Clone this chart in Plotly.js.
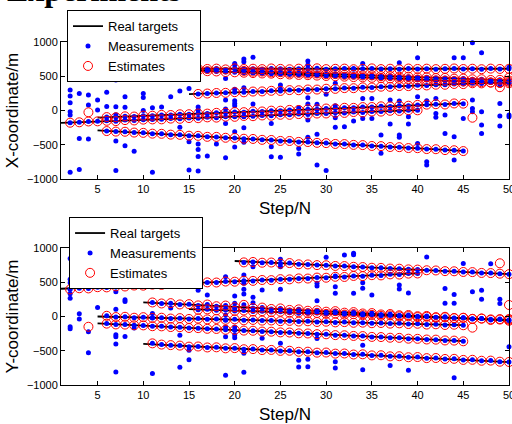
<!DOCTYPE html>
<html><head><meta charset="utf-8">
<script src="https://cdn.plot.ly/plotly-3.0.1.min.js"></script>
<style>html,body{margin:0;padding:0;background:#fff}#chart{width:512px;height:424px}</style>
</head><body><div id="chart"></div>
<script>
// ---------- X-coordinate figure ----------
// real target tracks: birth step, death step, value at birth, value at death (straight tracks)
const xTrackStart = [1, 5, 5, 10, 10, 15, 20];
const xTrackEnd   = [40, 45, 45, 50, 50, 50, 50];
const xTrackFrom  = [-180, -105, -290, 610, 615, 240, 580];
const xTrackTo    = [7, 105, -590, 610, 400, 415, 440];
// estimates for each track, one value per step starting at birth+1
const xEstA = [-178,-172,-160,-158,-150,-155,-140,-145,-133,-130,-129,-118,-121,-110,-112,-100,-104,-90,-92,-80,-83,-72,-76,-62,-63,-52,-58,-44,-43,-33,-35,-22,-28,-14,-16,-4,-6,5,3];
const xEstB = [-96,-98,-85,-88,-75,-76,-64,-66,-55,-54,-44,-45,-34,-33,-22,-24,-12,-14,-2,-3,9,8,19,18,29,30,40,39,50,51,61,60,71,70,82,86,92,88,103,100];
const xEstC = [-300,-308,-310,-322,-326,-338,-340,-352,-355,-368,-370,-384,-385,-398,-400,-412,-415,-428,-430,-444,-445,-458,-460,-472,-476,-488,-490,-502,-505,-518,-520,-533,-535,-548,-550,-563,-565,-578,-580,-592];
const xEstD = [612,605,608,615,603,610,607,612,600,615,606,610,604,614,608,602,611,606,616,604,609,612,603,608,615,605,610,602,613,607,611,604,609,614,606,610,603,612,607,609];
const xEstE = [606,600,597,590,584,580,574,570,562,558,552,547,541,538,530,526,520,516,510,504,500,494,488,484,478,472,468,462,456,452,446,440,436,430,424,418,414,408,403,398];
const xEstF = [242,248,256,258,268,266,277,279,288,286,298,296,307,306,318,316,327,326,338,336,348,346,357,356,368,366,377,376,388,386,398,396,408,405,418];
const xEstG = [578,568,569,558,560,549,550,540,541,530,532,521,522,512,513,502,504,493,494,484,485,474,476,465,466,456,457,446,448,438];
const xExtraEstStep = [4, 46, 49, 50];
const xExtraEstVal  = [-26, -105, 340, 480];
// clutter measurements
const xClutterStep = [2,2,2,2,2,2,3,3,3,4,4,4,5,5,6,6,7,7,7,7,7,8,8,8,8,8,9,10,10,10,11,11,12,13,14,14,15,15,15,16,16,16,16,16,16,17,18,19,19,19,19,19,20,20,20,20,20,20,20,20,21,21,21,21,21,21,22,22,24,24,24,25,25,25,27,27,27,28,28,28,28,28,28,29,29,29,30,30,31,31,31,31,32,33,33,34,34,34,35,35,36,36,37,37,38,38,38,38,39,39,40,40,40,41,41,41,42,42,42,43,43,44,44,44,45,45,46,46,46,46,47,47,47,47,49,49,49,49,50,50,50];
const xClutterVal  = [299,211,114,-17,-66,-900,250,-407,-862,226,80,-416,153,7,268,60,445,56,-60,-444,-874,640,484,202,46,-514,-596,250,190,0,41,-900,50,202,286,-246,323,-455,-869,50,7,-490,-570,-670,-884,-665,-490,469,153,22,-188,-689,688,664,309,143,104,70,-309,-533,752,713,333,-90,-251,-465,776,95,-188,-528,-674,372,313,-684,41,-553,-635,722,664,187,95,-139,-392,90,-348,-796,236,-874,397,70,-105,-246,-236,615,-154,688,177,-115,177,-115,-358,-625,153,-197,698,138,-358,-392,-90,-197,771,202,-480,143,-747,-796,177,-42,-100,-66,-334,771,-382,-723,771,-115,990,153,31,-17,844,-17,-212,-334,372,104,-81,-226,630,-66,-90];

// ---------- Y-coordinate figure ----------
const yTrackStart = [1, 20, 10, 15, 5, 5, 10];
const yTrackEnd   = [40, 50, 50, 50, 45, 45, 50];
const yTrackFrom  = [405, 810, 207, 109, 0, -100, -400];
const yTrackTo    = [630, 620, -60, -50, -125, -360, -665];
const yEst1 = [395,412,410,428,425,440,438,452,450,465,462,476,474,488,485,498,496,510,508,522,520,533,531,545,542,556,554,568,566,580,577,592,589,603,600,615,612,626,628];
const yEst2 = [790,796,785,788,772,780,762,760,750,748,738,736,726,722,712,710,700,698,688,685,675,672,662,660,650,648,636,634,625,618];
const yEst3 = [205,190,195,176,180,162,175,150,160,135,170,122,130,110,118,96,104,84,90,70,78,56,64,44,50,30,36,18,22,4,8,-10,-4,-22,-18,-36,-30,-50,-45,-62];
const yEst4 = [100,104,90,96,82,88,72,78,64,70,55,60,48,52,38,44,28,34,20,24,10,16,2,6,-8,-4,-16,-12,-25,-20,-34,-30,-42,-38,-48];
const yEst5 = [10,-8,-4,-18,-10,-22,-18,-30,-24,-36,-30,-42,-36,-48,-42,-56,-50,-60,-58,-68,-64,-74,-70,-80,-76,-86,-82,-92,-90,-98,-95,-104,-100,-110,-106,-118,-114,-124,-120,-128];
const yEst6 = [-104,-116,-118,-128,-130,-142,-144,-154,-156,-168,-170,-180,-182,-194,-196,-206,-208,-220,-222,-232,-234,-246,-248,-258,-260,-272,-274,-284,-286,-298,-300,-310,-312,-324,-326,-336,-338,-350,-352,-362];
const yEst7 = [-392,-410,-418,-425,-440,-438,-452,-450,-465,-462,-478,-476,-490,-488,-502,-500,-515,-514,-528,-526,-542,-540,-555,-552,-568,-566,-582,-580,-595,-592,-608,-606,-620,-618,-634,-632,-646,-644,-660,-664];
const yExtraEstStep = [4, 46, 49, 50, 50];
const yExtraEstVal  = [-150, -163, 777, 168, -37];
const yClutterStep = [2,2,2,2,2,2,2,3,3,3,4,4,5,5,7,7,7,7,7,7,7,8,8,8,8,9,10,11,11,11,13,14,14,15,15,16,17,19,19,19,19,19,19,19,20,20,20,20,20,20,20,21,21,21,21,21,21,22,22,22,23,23,25,25,25,25,27,27,27,28,28,29,29,29,29,30,31,31,31,31,31,32,33,33,33,34,34,34,34,35,37,38,38,39,39,41,43,43,44,44,44,45,46,47,47,48,49,49,50];
const yClutterVal  = [845,543,494,333,265,-150,-180,570,40,-35,-221,-528,507,130,507,363,105,-265,-294,-400,-810,614,245,220,-292,-168,632,44,-20,-832,124,-275,-740,-494,-630,385,315,580,110,22,-56,-153,-294,-856,299,192,119,-153,-202,-270,-309,604,484,397,330,-538,-815,728,280,202,387,-319,835,728,397,-392,46,-640,-737,-625,-732,484,445,231,-323,864,591,436,338,-659,-752,898,922,903,338,494,411,-421,-776,314,-716,460,400,343,-783,870,409,192,322,192,-893,774,360,385,251,770,251,190,-442];

const stepTicks = [5,10,15,20,25,30,35,40,45,50];
const coordTicks = [-1000,-500,0,500,1000];

const FONT = 'Liberation Sans, Arial, sans-serif';

function truthLine(st, en, a, b) {
  const xs = [], ys = [];
  st.forEach((s, i) => { xs.push(s, en[i], null); ys.push(a[i], b[i], null); });
  return {xs, ys};
}
function estPoints(st, ests, exS, exV) {
  const xs = [], ys = [];
  ests.forEach((arr, k) => arr.forEach((v, j) => { xs.push(st[k] + 1 + j); ys.push(v); }));
  exS.forEach((s, i) => { xs.push(s); ys.push(exV[i]); });
  return {xs, ys};
}

function makeTraces(st, en, a, b, ests, exS, exV, cS, cV, xa, ya, leg) {
  const t = truthLine(st, en, a, b);
  const e = estPoints(st, ests, exS, exV);
  // measurements: clutter plus target-originated detections (coincide with estimates at this scale)
  const mx = cS.concat(e.xs.slice(0, e.xs.length - exS.length));
  const my = cV.concat(e.ys.slice(0, e.ys.length - exS.length));
  return [
    {type:'scatter', mode:'lines', name:'Real targets', x:t.xs, y:t.ys, xaxis:xa, yaxis:ya, legend:leg,
     line:{color:'black', width:1.8}, connectgaps:false},
    {type:'scatter', mode:'markers', name:'Measurements', x:mx, y:my, xaxis:xa, yaxis:ya, legend:leg,
     marker:{color:'#0000ff', size:5}, cliponaxis:false},
    {type:'scatter', mode:'markers', name:'Estimates', x:e.xs, y:e.ys, xaxis:xa, yaxis:ya, legend:leg,
     marker:{symbol:'circle-open', color:'#ff0000', size:9, line:{width:1, color:'#ff0000'}}, cliponaxis:false}
  ];
}

const data = [].concat(
  makeTraces(xTrackStart, xTrackEnd, xTrackFrom, xTrackTo, [xEstA,xEstB,xEstC,xEstD,xEstE,xEstF,xEstG],
             xExtraEstStep, xExtraEstVal, xClutterStep, xClutterVal, 'x', 'y', 'legend'),
  makeTraces(yTrackStart, yTrackEnd, yTrackFrom, yTrackTo, [yEst1,yEst2,yEst3,yEst4,yEst5,yEst6,yEst7],
             yExtraEstStep, yExtraEstVal, yClutterStep, yClutterVal, 'x2', 'y2', 'legend2')
);

function xAxis(anchor) {
  return {anchor, domain:[0,1], range:[1,50], tickvals:stepTicks, ticks:'inside', ticklen:4, tickcolor:'black',
    showline:true, linecolor:'black', linewidth:1, mirror:'ticks', showgrid:false, zeroline:false,
    ticklabeloverflow:'allow',
    tickfont:{family:FONT, size:11, color:'black'},
    title:{text:'Step/N', font:{family:FONT, size:17, color:'black'}, standoff:7}};
}
function yAxis(anchor, dom, label) {
  return {anchor, domain:dom, range:[-1000,1000], tickvals:coordTicks, ticks:'inside', ticklen:4, tickcolor:'black',
    showline:true, linecolor:'black', linewidth:1, mirror:'ticks', showgrid:false, zeroline:false,
    ticklabeloverflow:'allow',
    tickfont:{family:FONT, size:11, color:'black'},
    title:{text:label, font:{family:FONT, size:17, color:'black'}, standoff:3}};
}
const legendStyle = {xanchor:'left', yanchor:'top', bgcolor:'white', bordercolor:'black', borderwidth:1,
  font:{family:FONT, size:13, color:'black'}, tracegroupgap:0};

const layout = {
  width:512, height:424, margin:{l:61, r:3, t:0, b:0},
  paper_bgcolor:'white', plot_bgcolor:'white', showlegend:true,
  xaxis: xAxis('y'), yaxis: yAxis('x', [0.5778, 0.9009], 'X-coordinate/m'),
  xaxis2: xAxis('y2'), yaxis2: yAxis('x2', [0.0920, 0.4151], 'Y-coordinate/m'),
  legend: Object.assign({x:0.0134, y:0.976}, legendStyle),
  legend2: Object.assign({x:0.018, y:0.488}, legendStyle),
  annotations:[{text:'<b>Experiments</b>', xref:'paper', yref:'paper', x:-0.125, y:1.023, xanchor:'left', yanchor:'middle',
    showarrow:false, font:{family:'Liberation Serif, Times New Roman, serif', size:32, color:'black'}}]
};

Plotly.newPlot('chart', data, layout, {displayModeBar:false, staticPlot:true});
</script>
</body></html>
